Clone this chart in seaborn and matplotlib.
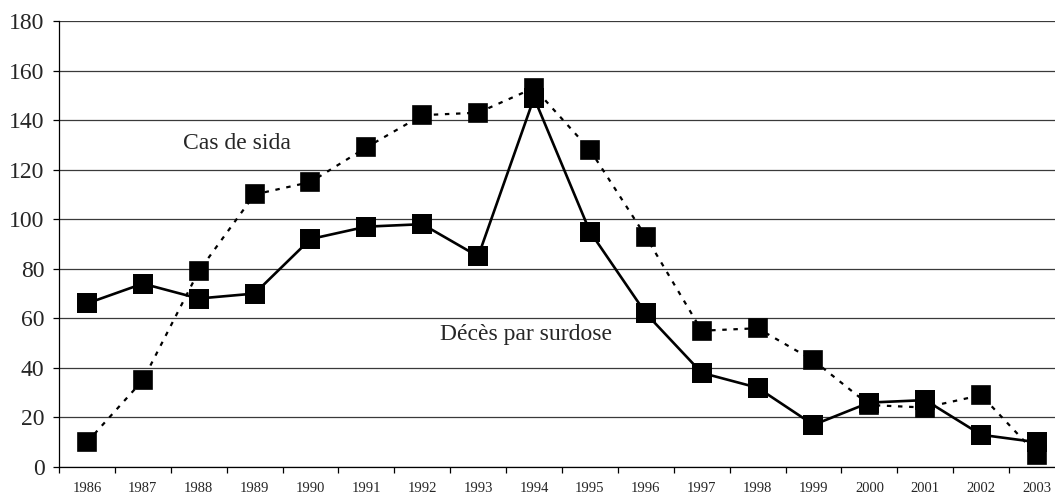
"""Cas de sida et décès par surdose, 1986-2003."""

from matplotlib import pyplot as plt
from matplotlib.ticker import FixedLocator, MultipleLocator
import pandas as pd
import seaborn as sns

years = [str(y) for y in range(1986, 2004)]
cas_de_sida = [10, 35, 79, 110, 115, 129, 142, 143, 153, 128, 93, 55, 56, 43, 25, 24, 29, 5]
deces_surdose = [66, 74, 68, 70, 92, 97, 98, 85, 149, 95, 62, 38, 32, 17, 26, 27, 13, 10]

sns.set_theme(style="white")
plt.rcParams["font.family"] = ["Liberation Serif", "DejaVu Serif"]
plt.rcParams["lines.dashed_pattern"] = [2.0, 3.0]

frame = pd.DataFrame({"year": years, "sida": cas_de_sida, "surdose": deces_surdose})

fig = plt.figure(figsize=(10.55, 4.98), dpi=100)
ax = fig.add_axes([59 / 1055, 31 / 498, 1006 / 1055, 446 / 498])

sns.pointplot(
    data=frame, x="year", y="sida", ax=ax, color="black", markers="s",
    linestyles="--", markersize=12.5, linewidth=1.6, errorbar=None,
)
sns.pointplot(
    data=frame, x="year", y="surdose", ax=ax, color="black", markers="s",
    linestyles="-", markersize=12.5, linewidth=1.9, errorbar=None,
)

ax.set_xlim(-0.5, len(years) - 0.5)
ax.set_ylim(0, 180)
ax.yaxis.set_major_locator(MultipleLocator(20))
ax.grid(axis="y", color="#3a3a3a", linewidth=0.9)
ax.set_axisbelow(True)

ax.xaxis.set_minor_locator(FixedLocator([i + 0.5 for i in range(-1, len(years))]))
ax.tick_params(axis="x", which="major", length=0, pad=11, labelsize=10.5)
ax.tick_params(axis="x", which="minor", length=4, width=0.9, color="black", direction="out", bottom=True)
ax.tick_params(axis="y", length=4.5, width=0.9, color="black", direction="out", left=True, pad=6, labelsize=17)

for side in ["top", "right"]:
    ax.spines[side].set_visible(False)
for side in ["left", "bottom"]:
    ax.spines[side].set_color("black")
    ax.spines[side].set_linewidth(0.9)

ax.set_xlabel("")
ax.set_ylabel("")

ax.text(2.68, 130.5, "Cas de sida", fontsize=17, ha="center", va="center")
ax.text(7.85, 53.5, "Décès par surdose", fontsize=17, ha="center", va="center")

fig.savefig("out.png", dpi=100)
